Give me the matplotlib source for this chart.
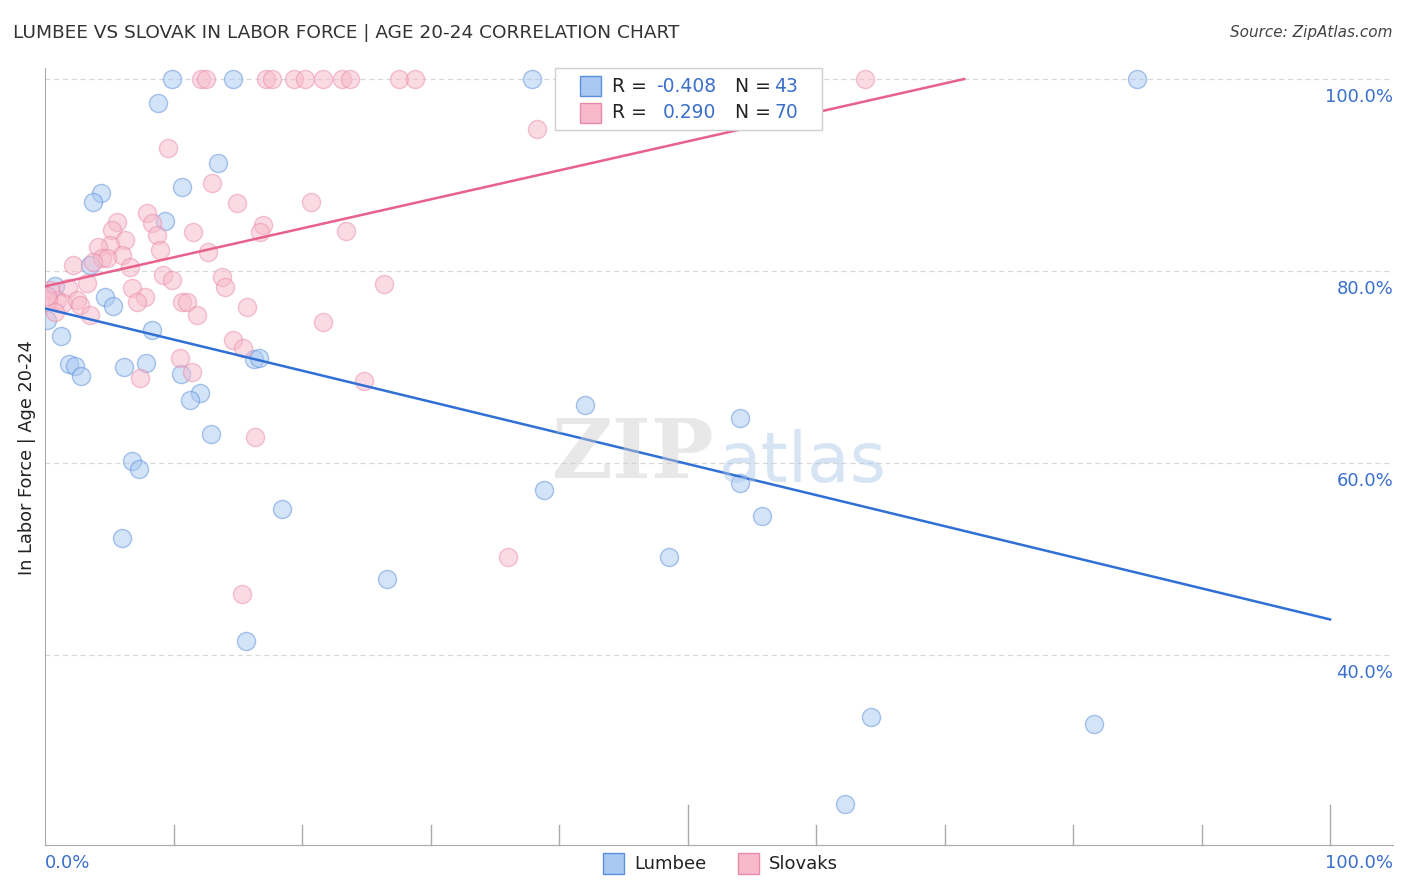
import numpy as np
import matplotlib
matplotlib.use("Agg")
import matplotlib.pyplot as plt
from matplotlib.patches import Rectangle

# Lumbee (blue) points, x and y in percent
lumbee_x = [9.88, 14.63, 37.9, 84.98, 8.79, 13.46, 10.66, 4.36, 3.74, 9.34,
            3.5, 0.78, 4.67, 5.29, 0.16, 8.33, 1.25, 1.87, 2.33, 2.8,
            6.15, 7.86, 10.58, 16.26, 16.65, 12.06, 11.28, 12.92, 6.77, 7.32,
            5.99, 18.44, 26.61, 15.64, 42.02, 38.83, 54.09, 54.09, 55.8, 48.56,
            64.28, 81.63, 62.26]
lumbee_y = [100, 100, 100, 100, 97.5, 91.25, 88.75, 88.1, 87.2, 85.2,
            80.6, 78.4, 77.3, 76.4, 74.9, 73.9, 73.2, 70.3, 70.1, 69.1,
            70.0, 70.4, 69.3, 70.8, 70.9, 67.3, 66.6, 63.0, 60.2, 59.4,
            52.2, 55.2, 47.9, 41.5, 66.0, 57.2, 64.7, 57.9, 54.5, 50.2,
            33.5, 32.8, 24.5]

# Slovaks (pink) points
slovak_x = [12.14, 12.53, 17.2, 17.67, 19.38, 20.23, 21.63, 23.11, 23.74, 27.55,
            28.79, 63.81, 38.29, 9.57, 13.0, 14.94, 20.7, 7.94, 5.6, 8.33,
            16.96, 5.21, 11.52, 16.73, 23.42, 8.72, 6.23, 5.06, 4.12, 8.95,
            5.99, 12.68, 4.44, 4.82, 3.74, 2.18, 6.61, 9.18, 13.77, 9.88,
            3.27, 14.01, 6.77, 26.38, 0.39, 1.79, 7.78, 7.16, 10.66, 11.05,
            15.72, 0.93, 1.4, 2.49, 2.72, 11.83, 3.5, 21.63, 14.63, 15.41,
            10.51, 11.44, 7.39, 24.82, 16.34, 36.03, 15.33, 0.23, 0.78, 0.16]
slovak_y = [100, 100, 100, 100, 100, 100, 100, 100, 100, 100,
            100, 100, 94.8, 92.8, 89.2, 87.1, 87.2, 86.0, 85.1, 85.0,
            84.8, 84.3, 84.1, 84.1, 84.2, 83.75, 83.2, 82.7, 82.5, 82.2,
            81.7, 82.0, 81.35, 81.35, 80.9, 80.6, 80.4, 79.6, 79.4, 79.1,
            78.75, 78.3, 78.2, 78.6, 78.0, 78.2, 77.3, 76.8, 76.8, 76.8,
            76.25, 77.0, 76.7, 77.0, 76.5, 75.4, 75.4, 74.7, 72.8, 72.0,
            70.9, 69.5, 68.9, 68.5, 62.7, 50.2, 46.4, 77.0, 75.7, 77.4]

# trend lines: intercept, slope
lumbee_fit = (76.1, -0.324)
slovak_fit = (78.4, 0.302)

legend_r = ["-0.408", "0.290"]
legend_n = ["43", "70"]
y_ticks = [40, 60, 80, 100]

blue_face = "#a9c8f2"
blue_edge = "#5b8fdb"
blue_line = "#2f6fd6"
pink_face = "#f7b9cb"
pink_edge = "#e98aa8"
pink_line = "#e8618b"
label_blue = "#3b6fcb"

fig = plt.figure(figsize=(14.06, 8.92), dpi=100)
ax = fig.add_axes([45 / 1406, 1 - 845 / 892, 1348 / 1406, 777 / 892])
ax.set_xlim(0, 104.9)
ax.set_ylim(20.2, 101.15)

for v in y_ticks:
    ax.axhline(v, color="#d8d8d8", lw=0.9, ls=(0, (4, 3)), zorder=0)

ax.scatter(lumbee_x, lumbee_y, s=170, facecolor=blue_face, edgecolor=blue_edge,
           linewidths=1.0, alpha=0.5, zorder=3)
ax.scatter(slovak_x, slovak_y, s=170, facecolor=pink_face, edgecolor=pink_edge,
           linewidths=1.0, alpha=0.5, zorder=3)

xb = np.array([0, 100])
ax.plot(xb, lumbee_fit[0] + lumbee_fit[1] * xb, color=blue_line, lw=1.8, zorder=4)
x_end = (100 - slovak_fit[0]) / slovak_fit[1]
xp = np.array([0, x_end])
ax.plot(xp, slovak_fit[0] + slovak_fit[1] * xp, color=pink_line, lw=1.8, zorder=4)

for s in ["top", "right"]:
    ax.spines[s].set_visible(False)
ax.spines["left"].set_color("#aaaaaa")
ax.spines["bottom"].set_color("#aaaaaa")
ax.set_yticks([])
ax.set_xticks([])

# x ticks: long at 0/50/100, short otherwise
for t in range(10, 101, 10):
    ln = 0.052 if t in (50, 100) else 0.026
    ax.plot([t, t], [0, ln], transform=ax.get_xaxis_transform(),
            color="#aaaaaa", lw=1.0, clip_on=False)

# y tick labels on the right, under the gridlines
for v in y_ticks:
    ax.text(1.0, v - 0.9, f"{v:.1f}%", transform=ax.get_yaxis_transform(),
            ha="right", va="top", color=label_blue, fontsize=13)
fig.text(45 / 1406, 1 - 863 / 892, "0.0%", ha="left", va="center",
         color=label_blue, fontsize=13)
fig.text(1393 / 1406, 1 - 863 / 892, "100.0%", ha="right", va="center",
         color=label_blue, fontsize=13)

fig.text(27 / 1406, 1 - 458 / 892, "In Labor Force | Age 20-24", rotation=90,
         ha="center", va="center", fontsize=12.8, color="#222222")
fig.text(13 / 1406, 1 - 33 / 892,
         "LUMBEE VS SLOVAK IN LABOR FORCE | AGE 20-24 CORRELATION CHART",
         ha="left", va="center", fontsize=13.3, color="#333333")
fig.text(1393 / 1406, 1 - 33 / 892, "Source: ZipAtlas.com", ha="right",
         va="center", fontsize=11, color="#444444", style="italic")

# watermark
fig.text(633 / 1406, 1 - 455 / 892, "ZIP", ha="center", va="center",
         fontsize=60, fontweight="bold", family="DejaVu Serif",
         color="#cccccc", alpha=0.45)
fig.text(803 / 1406, 1 - 462 / 892, "atlas", ha="center", va="center",
         fontsize=50, color="#a8c4e8", alpha=0.45)

# top legend box
fig.patches.append(Rectangle((555 / 1406, 1 - 130 / 892), 267 / 1406, 62 / 892,
                             transform=fig.transFigure, facecolor="white",
                             edgecolor="#d0d0d0", lw=1.0, zorder=5))
rows = [(86, blue_face, blue_edge), (113, pink_face, pink_edge)]
for (yy, fc, ec), r, n in zip(rows, legend_r, legend_n):
    fig.patches.append(Rectangle((580 / 1406, 1 - (yy + 10) / 892), 21 / 1406, 20 / 892,
                                 transform=fig.transFigure, facecolor=fc,
                                 edgecolor=ec, lw=1.0, zorder=6))
    fig.text(612 / 1406, 1 - yy / 892, "R =", ha="left", va="center",
             fontsize=13.5, color="#222222", zorder=7)
    fig.text(716 / 1406, 1 - yy / 892, r, ha="right", va="center",
             fontsize=13.5, color=label_blue, zorder=7)
    fig.text(735 / 1406, 1 - yy / 892, "N =", ha="left", va="center",
             fontsize=13.5, color="#222222", zorder=7)
    fig.text(774 / 1406, 1 - yy / 892, n, ha="left", va="center",
             fontsize=13.5, color=label_blue, zorder=7)

# bottom legend
for x0, fc, ec, name in [(603, blue_face, blue_edge, "Lumbee"),
                         (738, pink_face, pink_edge, "Slovaks")]:
    fig.patches.append(Rectangle((x0 / 1406, 1 - 874 / 892), 21 / 1406, 21 / 892,
                                 transform=fig.transFigure, facecolor=fc,
                                 edgecolor=ec, lw=1.0))
    fig.text((x0 + 31) / 1406, 1 - 864 / 892, name, ha="left", va="center",
             fontsize=13, color="#222222")

fig.savefig("out.png", dpi=100)
